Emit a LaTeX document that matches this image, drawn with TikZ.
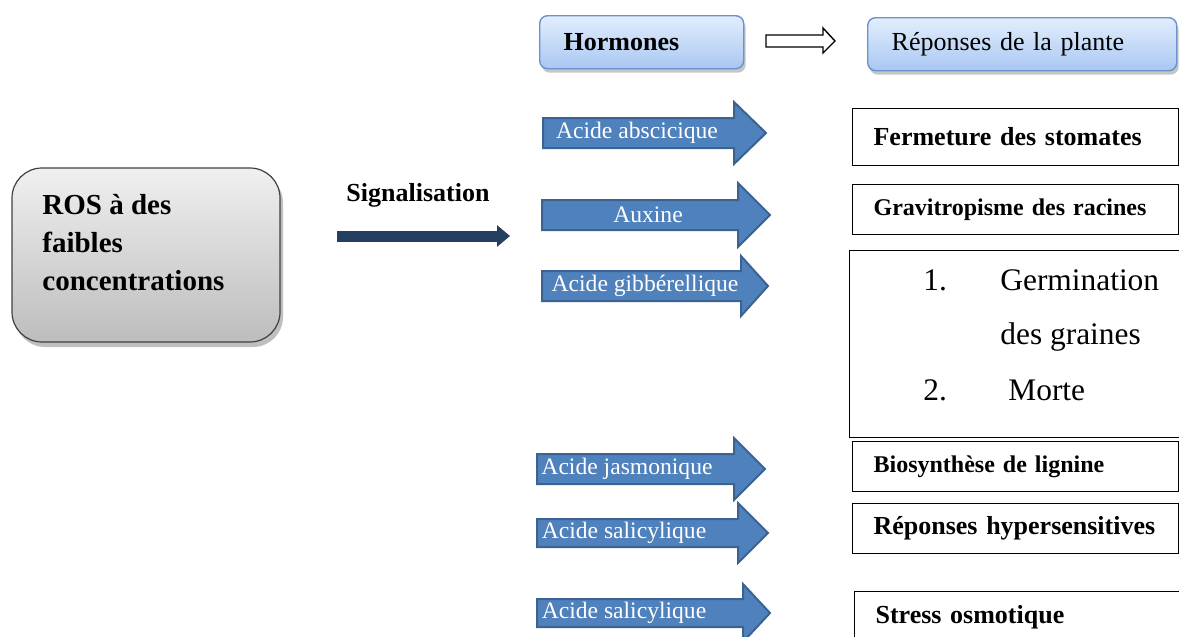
\documentclass[tikz,border=0pt]{standalone}
\usepackage{fontspec}
\setmainfont{Liberation Serif}
\usepackage{xcolor}
\usepackage{tikz}
\usetikzlibrary{positioning,arrows.meta,shadows}

\definecolor{hormblue}{HTML}{4F81BD}
\definecolor{hormedge}{HTML}{3A6393}
\definecolor{signavy}{HTML}{243F60}
\definecolor{headtop}{HTML}{E3EEFD}
\definecolor{headbot}{HTML}{A9C7F3}
\definecolor{headedge}{HTML}{6A93CB}

\begin{document}
\begin{tikzpicture}[x=0.5pt, y=-0.5pt, >=Latex,
    headbox/.style={draw=headedge, line width=0.7pt, rounded corners=4pt,
      top color=headtop, bottom color=headbot, anchor=north west,
      minimum height=26.5pt, inner xsep=12pt, align=left,
      drop shadow={shadow xshift=1pt, shadow yshift=-2pt, opacity=0.45},
      font=\fontsize{13}{15.6}\selectfont},
    respbox/.style={draw, line width=0.6pt, fill=white, anchor=north west,
      inner xsep=10.5pt, text width=142pt, align=left,
      font=\fontsize{13}{15.6}\selectfont\bfseries},
    hormarrow/.style={fill=hormblue, draw=hormedge, line width=1pt, line join=miter},
    hormlabel/.style={text=white, inner sep=0pt, font=\fontsize{11.8}{14}\selectfont},
    listtext/.style={anchor=base west, inner sep=0pt, font=\fontsize{15.7}{18.8}\selectfont}]
  \useasboundingbox (0,0) rectangle (1179,637);
  \clip (0,0) rectangle (1179,637);

  % source of the signal
  \node[draw=black!75, line width=0.6pt, rounded corners=15pt,
    top color=black!6, bottom color=black!26,
    minimum width=134pt, minimum height=87pt,
    drop shadow={shadow xshift=1.5pt, shadow yshift=-2.5pt, opacity=0.5}]
    (ros) at (146,255) {};
  \node[anchor=west, inner sep=0pt, align=left,
    font=\fontsize{14.5}{19}\selectfont\bfseries]
    (rostext) at (42,243) {ROS à des\\faibles\\concentrations};

  \node[font=\fontsize{13}{15.6}\selectfont\bfseries] (signal) at (418,195) {Signalisation};
  \coordinate (sigstart) at (337,236);
  \coordinate (sigend) at (510,236);
  \draw[signavy, line width=5.5pt, -{Triangle[length=6.5pt, width=10.5pt]}] (sigstart) -- (sigend);

  % headings
  \node[headbox, text width=78pt] (hormones) at (539,15) {\bfseries Hormones};
  \node[headbox, text width=130.5pt] (reponses) at (867,17) {Réponses de la plante};
  \draw[line width=0.7pt, fill=white, line join=miter]
    (766,35) -- (823,35) -- (823,28) -- (835,41) -- (823,53) -- (823,47) -- (766,47) -- cycle;

  % hormones
  \foreach \yy/\xl/\xb/\xt/\hs/\hh/\tx/\nm/\lab in {
      133/543/734/766/15/31/637/abs/{Acide abscicique},
      215/542/738/770/15/32/648/aux/{Auxine},
      286/542/741/768/15/30/645/gib/{Acide gibbérellique},
      469/537/734/765/15/31/627/jas/{Acide jasmonique},
      533/537/738/768/14/30/624/sal/{Acide salicylique},
      613/537/743/770/14/29/624/salb/{Acide salicylique}}{
    \filldraw[hormarrow] (\xl,\yy-\hs) -- (\xb,\yy-\hs) -- (\xb,\yy-\hh) -- (\xt,\yy)
      -- (\xb,\yy+\hh) -- (\xb,\yy+\hs) -- (\xl,\yy+\hs) -- cycle;
    \node[hormlabel] (h-\nm) at (\tx,\yy) {\lab};
  }

  % plant responses
  \node[respbox, minimum height=28.5pt] (stomates) at (852,108) {Fermeture des stomates};
  \node[respbox, minimum height=25pt, font=\fontsize{12}{14.4}\selectfont\bfseries]
    (gravi) at (852,184) {Gravitropisme des racines};
  \node[draw, line width=0.6pt, anchor=north west, minimum width=175pt, minimum height=93.5pt]
    (germbox) at (849,250) {};
  \node[listtext] (num1) at (923,290) {1.};
  \node[listtext] (germ) at (1000,290) {Germination};
  \node[listtext] (graines) at (1000,344) {des graines};
  \node[listtext] (num2) at (923,400) {2.};
  \node[listtext] (morte) at (1008,400) {Morte};
  \node[respbox, minimum height=25pt, font=\fontsize{12}{14.4}\selectfont\bfseries]
    (lignine) at (852,441) {Biosynthèse de lignine};
  \node[respbox, minimum height=25pt] (hyper) at (852,503) {Réponses hypersensitives};
  \node[respbox, minimum height=26pt] (osmo) at (854,591) {Stress osmotique};
\end{tikzpicture}
\end{document}
